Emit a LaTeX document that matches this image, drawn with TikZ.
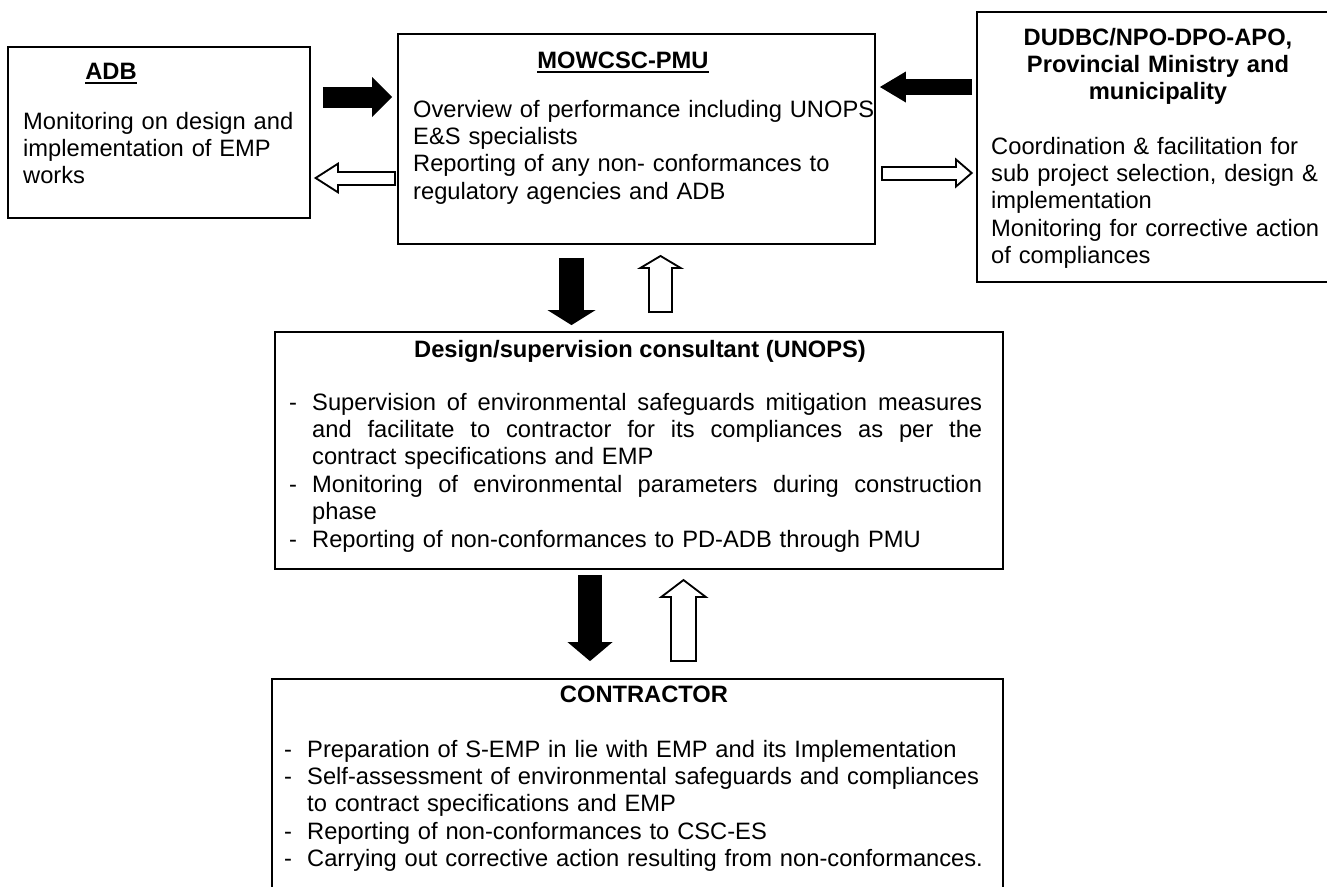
\documentclass[tikz,border=0pt]{standalone}
\usepackage{fontspec}
\setmainfont{Liberation Sans}
\usetikzlibrary{arrows.meta}
\setlength{\parindent}{0pt}
\newcommand{\diagfont}{\fontsize{23.7}{27.4}\selectfont}
\newcommand{\bul}{\makebox[23pt][l]{-}}
\newcommand{\hng}{\hspace*{23pt}}
\newcommand{\jst}[1]{\hbox to 670pt{\spaceskip=\fontdimen2\font plus 1fil\relax #1}}
\newcommand{\ulttl}[1]{\setbox0\hbox{#1}\rlap{\rule[-4.5pt]{\wd0}{1.8pt}}\box0}
\tikzset{box/.style={draw, line width=1.8pt, inner sep=0pt},
         txt/.style={font=\diagfont, align=left, inner sep=0pt, anchor=base west, text width=#1},
         ttl/.style={font=\diagfont\bfseries, inner sep=0pt, anchor=base},
         fullarr/.style n args={3}{line width=#1pt, -{Triangle[width=#2pt, length=#3pt, line width=0pt]}},
         emptyarr/.style n args={3}{white, fullarr={#1}{#2}{#3}},
        }

\begin{document}
\begin{tikzpicture}[x=1pt, y=-1pt]
        \useasboundingbox (0,0) rectangle (1327,886);

        \node[box, minimum width=302pt, minimum height=171pt](adb)at(159,132.5){};
        \node[box, minimum width=477pt, minimum height=210pt](pmu)at(636.5,139){};
        \node[box, minimum width=353pt, minimum height=270pt](dudbc)at(1153.5,147){};
        \node[box, minimum width=728pt, minimum height=237pt](dsg)at(639,450.5){};
        \node[box, minimum width=731pt, minimum height=221pt](con)at(637.5,789.5){};

        \node[ttl](adbttl)at(111,79){\ulttl{ADB}};
        \node[txt=285pt](adbtxt)at(23,129){Monitoring on design and\\implementation of EMP\\works};

        \node[ttl](pmuttl)at(623,68){\ulttl{MOWCSC-PMU}};
        \node[txt=470pt](pmutxt)at(413,117){Overview of performance including UNOPS\\E\&S specialists\\Reporting of any non- conformances to\\regulatory agencies and ADB};

        \node[ttl, text width=340pt, align=center](dudbcttl)at(1158,45){DUDBC/NPO-DPO-APO,\\Provincial Ministry and\\municipality};
        \node[txt=340pt](dudbctxt)at(991,154){Coordination \& facilitation for\\sub project selection, design \&\\implementation\\Monitoring for corrective action\\of compliances};

        \node[ttl](dsgttl)at(640,357){Design/supervision consultant (UNOPS)};
        \node[txt=740pt](dsgtxt)at(289,410){\bul\jst{Supervision of environmental safeguards mitigation measures}\\
            \hng\jst{and facilitate to contractor for its compliances as per the}\\
            \hng contract specifications and EMP\\
            \bul\jst{Monitoring of environmental parameters during construction}\\
            \hng phase\\
            \bul Reporting of non-conformances to PD-ADB through PMU};

        \node[ttl](conttl)at(644,702){CONTRACTOR};
        \node[txt=740pt](contxt)at(284,757){\bul Preparation of S-EMP in lie with EMP and its Implementation\\
            \bul Self-assessment of environmental safeguards and compliances\\
            \hng to contract specifications and EMP\\
            \bul Reporting of non-conformances to CSC-ES\\
            \bul Carrying out corrective action resulting from non-conformances.};

        \draw[fullarr={21}{40}{20}, shorten <=12pt, shorten >=5pt]([yshift=35.5pt]adb.east)--([yshift=42pt]pmu.west);
        \draw[fullarr={15}{32}{25}, shorten <=1pt, shorten >=3pt]([yshift=-39pt]pmu.west)--([yshift=-45.5pt]adb.east);
        \draw[emptyarr={11}{24.7}{19.3}, shorten <=3pt, shorten >=6.7pt]([yshift=-39pt]pmu.west)--([yshift=-45.5pt]adb.east);

        \draw[fullarr={16}{31}{26}, shorten <=4pt, shorten >=4pt]([yshift=60pt]dudbc.west)--([yshift=52pt]pmu.east);
        \draw[fullarr={15}{31}{18}, shorten <=5pt, shorten >=3pt]([yshift=-34pt]pmu.east)--([yshift=-26pt]dudbc.west);
        \draw[emptyarr={11}{22.2}{12.9}, shorten <=7pt, shorten >=6.1pt]([yshift=-34pt]pmu.east)--([yshift=-26pt]dudbc.west);

        \draw[fullarr={25}{48}{15}, shorten <=13pt, shorten >=6pt]([xshift=-65pt]pmu.south)--([xshift=-67.5pt]dsg.north);
        \draw[fullarr={25}{47}{14}, shorten <=18pt, shorten >=10pt]([xshift=21.5pt]dsg.north)--([xshift=24pt]pmu.south);
        \draw[emptyarr={21}{32.5}{9.7}, shorten <=20pt, shorten >=12.3pt]([xshift=21.5pt]dsg.north)--([xshift=24pt]pmu.south);

        \draw[fullarr={24}{45}{19}, shorten <=5pt, shorten >=17pt]([xshift=-49pt]dsg.south)--([xshift=-47.5pt]con.north);
        \draw[fullarr={27}{50}{19}, shorten <=16pt, shorten >=9pt]([xshift=46pt]con.north)--([xshift=44.5pt]dsg.south);
        \draw[emptyarr={23}{38.2}{14.5}, shorten <=18pt, shorten >=11.5pt]([xshift=46pt]con.north)--([xshift=44.5pt]dsg.south);
\end{tikzpicture}
\end{document}
